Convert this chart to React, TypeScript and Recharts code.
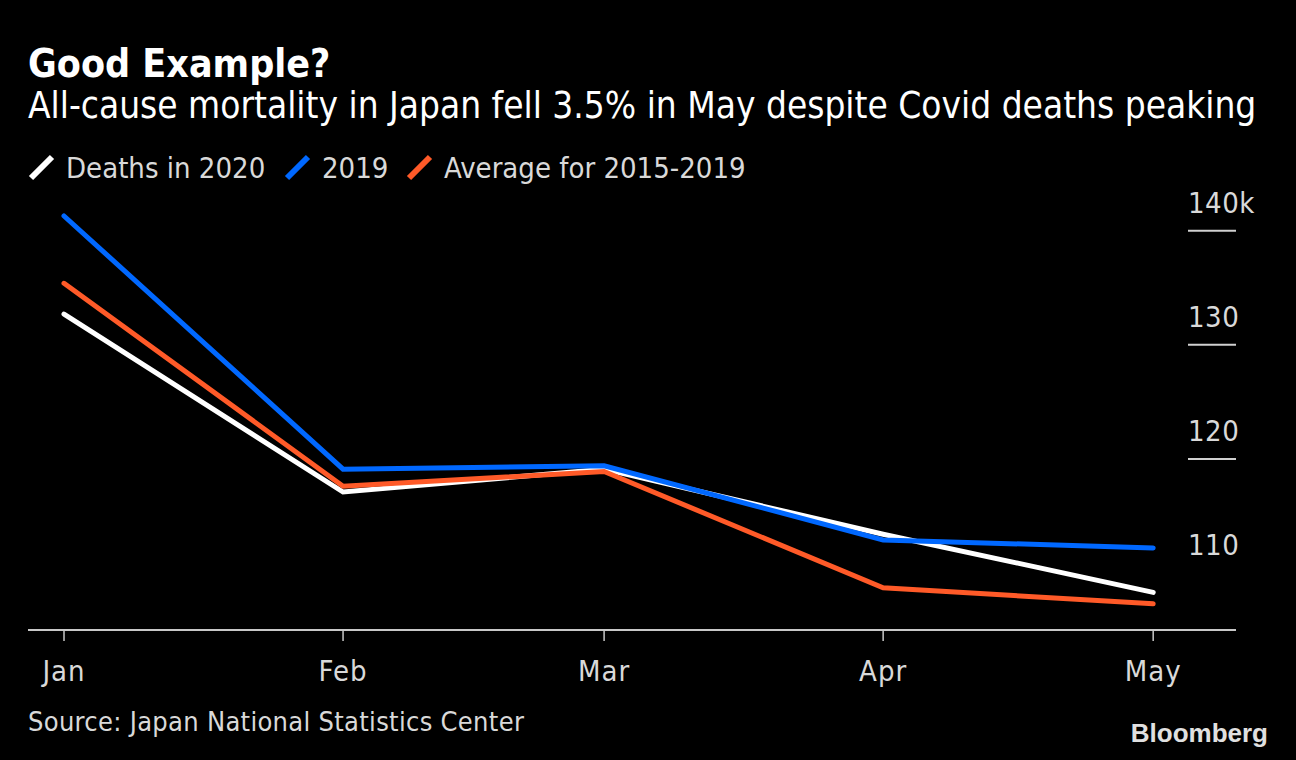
import React from 'react';
import { LineChart, Line, XAxis, YAxis } from 'recharts';

const months = ['Jan', 'Feb', 'Mar', 'Apr', 'May'];
const dayOffsets = [0, 31, 60, 91, 121];
const deaths2020 = [132.7, 117.1, 119.1, 113.4, 108.3];
const deaths2019 = [141.3, 119.1, 119.4, 112.9, 112.2];
const average2015to2019 = [135.4, 117.6, 118.9, 108.7, 107.3];
const yTicks = [110, 120, 130, 140];
const yTickLabels = ['110', '120', '130', '140k'];

const data = months.map((m, i) => ({
  month: m,
  day: dayOffsets[i],
  d2020: deaths2020[i],
  d2019: deaths2019[i],
  avg: average2015to2019[i],
}));

const FONT = '"DejaVu Sans Condensed", "DejaVu Sans", sans-serif';
const TEXT = '#d9d9d9';
const WHITE = '#ffffff';
const BLUE = '#0068ff';
const ORANGE = '#ff5a28';

const YTick = (props: any) => {
  const { x, y, payload } = props;
  const idx = yTicks.indexOf(payload.value);
  const label = yTickLabels[idx] ?? String(payload.value);
  return (
    <g>
      {payload.value !== 110 && (
        <line x1={x - 48} x2={x} y1={y} y2={y} stroke="#d0d0d0" strokeWidth={2} />
      )}
      <text x={x - 48} y={y - 18} fill={TEXT} fontSize={29} fontFamily={FONT} textAnchor="start" letterSpacing={0.5}>
        {label}
      </text>
    </g>
  );
};

const XTick = (props: any) => {
  const { x, y, payload } = props;
  const idx = dayOffsets.indexOf(payload.value);
  return (
    <text x={x} y={y + 40} fill={TEXT} fontSize={29} fontFamily={FONT} textAnchor="middle" letterSpacing={1}>
      {months[idx]}
    </text>
  );
};

const legendItems = [
  { label: 'Deaths in 2020', color: WHITE, x: 31 },
  { label: '2019', color: BLUE, x: 287 },
  { label: 'Average for 2015-2019', color: ORANGE, x: 409 },
];

export default function App() {
  return (
    <div style={{ position: 'relative', width: 1296, height: 760, background: '#000', overflow: 'hidden' }}>
      <style>{`body{margin:0;background:#000;}`}</style>
      <div style={{ position: 'absolute', left: 0, top: 0 }}>
        <LineChart
          width={1296}
          height={760}
          data={data}
          margin={{ top: 208, right: 0, bottom: 70, left: 28 }}
        >
          <XAxis
            dataKey="day"
            type="number"
            domain={[-4, 130.2]}
            ticks={dayOffsets}
            height={60}
            axisLine={{ stroke: '#c8c8c8', strokeWidth: 2 }}
            tickLine={{ stroke: '#c8c8c8', strokeWidth: 1.5 }}
            tickSize={11}
            tickMargin={0}
            tick={<XTick />}
            interval={0}
            allowDataOverflow
          />
          <YAxis
            orientation="right"
            type="number"
            domain={[105, 142]}
            ticks={yTicks}
            width={60}
            axisLine={false}
            tickLine={false}
            tickSize={0}
            tickMargin={0}
            tick={<YTick />}
            interval={0}
            allowDataOverflow
          />
          <Line dataKey="d2020" stroke={WHITE} strokeWidth={5} dot={false} strokeLinecap="round" strokeLinejoin="miter" isAnimationActive={false} />
          <Line dataKey="avg" stroke={ORANGE} strokeWidth={5} dot={false} strokeLinecap="round" strokeLinejoin="miter" isAnimationActive={false} />
          <Line dataKey="d2019" stroke={BLUE} strokeWidth={5} dot={false} strokeLinecap="round" strokeLinejoin="miter" isAnimationActive={false} />
        </LineChart>
      </div>
      <svg width={1296} height={760} style={{ position: 'absolute', left: 0, top: 0, pointerEvents: 'none' }}>
        <text x={28} y={77} fill={WHITE} fontSize={39} fontWeight="bold" fontFamily={FONT}>Good Example?</text>
        <text x={28} y={118} fill={WHITE} fontSize={36.7} fontFamily={FONT}>
          All-cause mortality in Japan fell 3.5% in May despite Covid deaths peaking
        </text>
        {legendItems.map((it) => (
          <g key={it.label}>
            <line x1={it.x} y1={178} x2={it.x + 21} y2={157} stroke={it.color} strokeWidth={6} />
            <text x={it.x + 35} y={178} fill={TEXT} fontSize={29} fontFamily={FONT}>{it.label}</text>
          </g>
        ))}
        <text x={28} y={731} fill={TEXT} fontSize={27} fontFamily={FONT} letterSpacing={0.3}>Source: Japan National Statistics Center</text>
        <text x={1268} y={742} fill="#e0e0e0" fontSize={26} fontWeight="bold" fontFamily='"Liberation Sans", Arial, sans-serif' textAnchor="end">Bloomberg</text>
      </svg>
    </div>
  );
}
